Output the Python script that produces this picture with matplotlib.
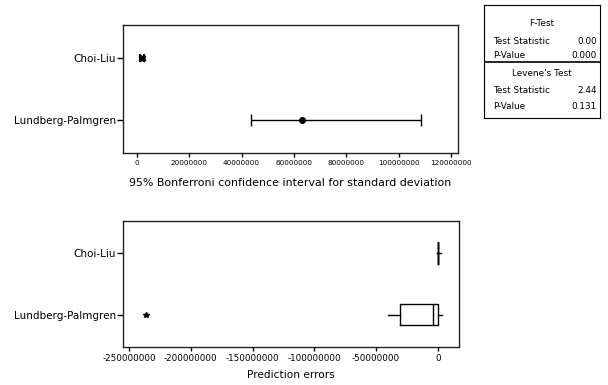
import numpy as np
import matplotlib
matplotlib.use('Agg')
import matplotlib.pyplot as plt

# data
methods = ['Lundberg-Palmgren', 'Choi-Liu']
sd_est = [63.0e6, 2.0e6]
sd_low = [43.5e6, 1.2e6]
sd_high = [108.7e6, 2.8e6]

# prediction error boxplot stats
whislo = [-40.0e6, -0.3e6]
q1 = [-30.5e6, -0.2e6]
med = [-3.5e6, 0.0]
q3 = [0.5e6, 0.3e6]
whishi = [3.2e6, 2.5e6]
fliers = [[-236.0e6], []]

ftest = ['0.00', '0.000']
levene = ['2.44', '0.131']

top_ticks = [0, 20000000, 40000000, 60000000, 80000000, 100000000, 120000000]
bot_ticks = [-250000000, -200000000, -150000000, -100000000, -50000000, 0]

plt.rcParams['font.family'] = 'DejaVu Sans'
fig = plt.figure(figsize=(6.08, 3.85), dpi=100)

def style(ax):
    for s in ax.spines.values():
        s.set_linewidth(1.0)
        s.set_color('#222222')
    ax.tick_params(axis='y', labelsize=7.5, length=4, width=1, pad=1)
    ax.tick_params(axis='x', labelsize=5.2, length=3, width=1, pad=2)

# --- top: confidence intervals ---
ax1 = fig.add_axes([123/608, 1-153/385, 335/608, 128/385])
ypos = np.arange(1, len(methods)+1)
err = [np.array(sd_est) - np.array(sd_low), np.array(sd_high) - np.array(sd_est)]
ax1.errorbar([sd_est[0]], [ypos[0]], xerr=[[err[0][0]], [err[1][0]]], fmt='o',
             color='black', ms=4, capsize=4, elinewidth=1, capthick=1)
ax1.errorbar([sd_est[1]], [ypos[1]], xerr=[[err[0][1]], [err[1][1]]], fmt='X',
             color='black', ms=4.5, capsize=3, elinewidth=1.5, capthick=1.5)
ax1.set_yticks(ypos)
ax1.set_yticklabels(methods)
ax1.set_ylim(0.48, 2.52)
ax1.set_xlim(-5.3e6, 122.7e6)
ax1.set_xticks(top_ticks)
ax1.set_xticklabels([str(t) for t in top_ticks])
ax1.set_xlabel('95% Bonferroni confidence interval for standard deviation', fontsize=7.9, labelpad=9)
style(ax1)

# --- bottom: boxplot ---
ax2 = fig.add_axes([123/608, 1-346.7/385, 336/608, 126/385])
stats = []
for i in range(len(methods)):
    stats.append(dict(whislo=whislo[i], q1=q1[i], med=med[i], q3=q3[i],
                      whishi=whishi[i], fliers=fliers[i], label=methods[i]))
ax2.bxp(stats, positions=ypos, vert=False, widths=0.35, showcaps=False,
        boxprops=dict(color='black', linewidth=1),
        whiskerprops=dict(color='black', linewidth=1),
        medianprops=dict(color='black', linewidth=1),
        flierprops=dict(marker='*', markerfacecolor='black', markeredgecolor='black', markersize=4))
ax2.set_ylim(0.48, 2.52)
ax2.set_xlim(-254.9e6, 17.2e6)
ax2.set_xticks(bot_ticks)
ax2.set_xticklabels([str(t) for t in bot_ticks])
ax2.set_xlabel('Prediction errors', fontsize=7.6, labelpad=5)
style(ax2)
ax2.tick_params(axis='x', labelsize=6.3)

# --- table on the right ---
axt = fig.add_axes([484/608, 1-118/385, 116/608, 113/385])
axt.set_xticks([])
axt.set_yticks([])
axt.set_xlim(0, 1)
axt.set_ylim(0, 1)
for s in axt.spines.values():
    s.set_linewidth(0.8)
axt.axhline(0.4956, color='black', lw=1.2)
fs = 6.4
axt.text(0.5, 0.84, 'F-Test', ha='center', va='center', fontsize=fs)
axt.text(0.075, 0.681, 'Test Statistic', ha='left', va='center', fontsize=fs)
axt.text(0.975, 0.681, ftest[0], ha='right', va='center', fontsize=fs)
axt.text(0.075, 0.549, 'P-Value', ha='left', va='center', fontsize=fs)
axt.text(0.975, 0.549, ftest[1], ha='right', va='center', fontsize=fs)
axt.text(0.5, 0.398, "Levene's Test", ha='center', va='center', fontsize=fs)
axt.text(0.075, 0.239, 'Test Statistic', ha='left', va='center', fontsize=fs)
axt.text(0.975, 0.239, levene[0], ha='right', va='center', fontsize=fs)
axt.text(0.075, 0.106, 'P-Value', ha='left', va='center', fontsize=fs)
axt.text(0.975, 0.106, levene[1], ha='right', va='center', fontsize=fs)

fig.savefig('out.png', dpi=100)
